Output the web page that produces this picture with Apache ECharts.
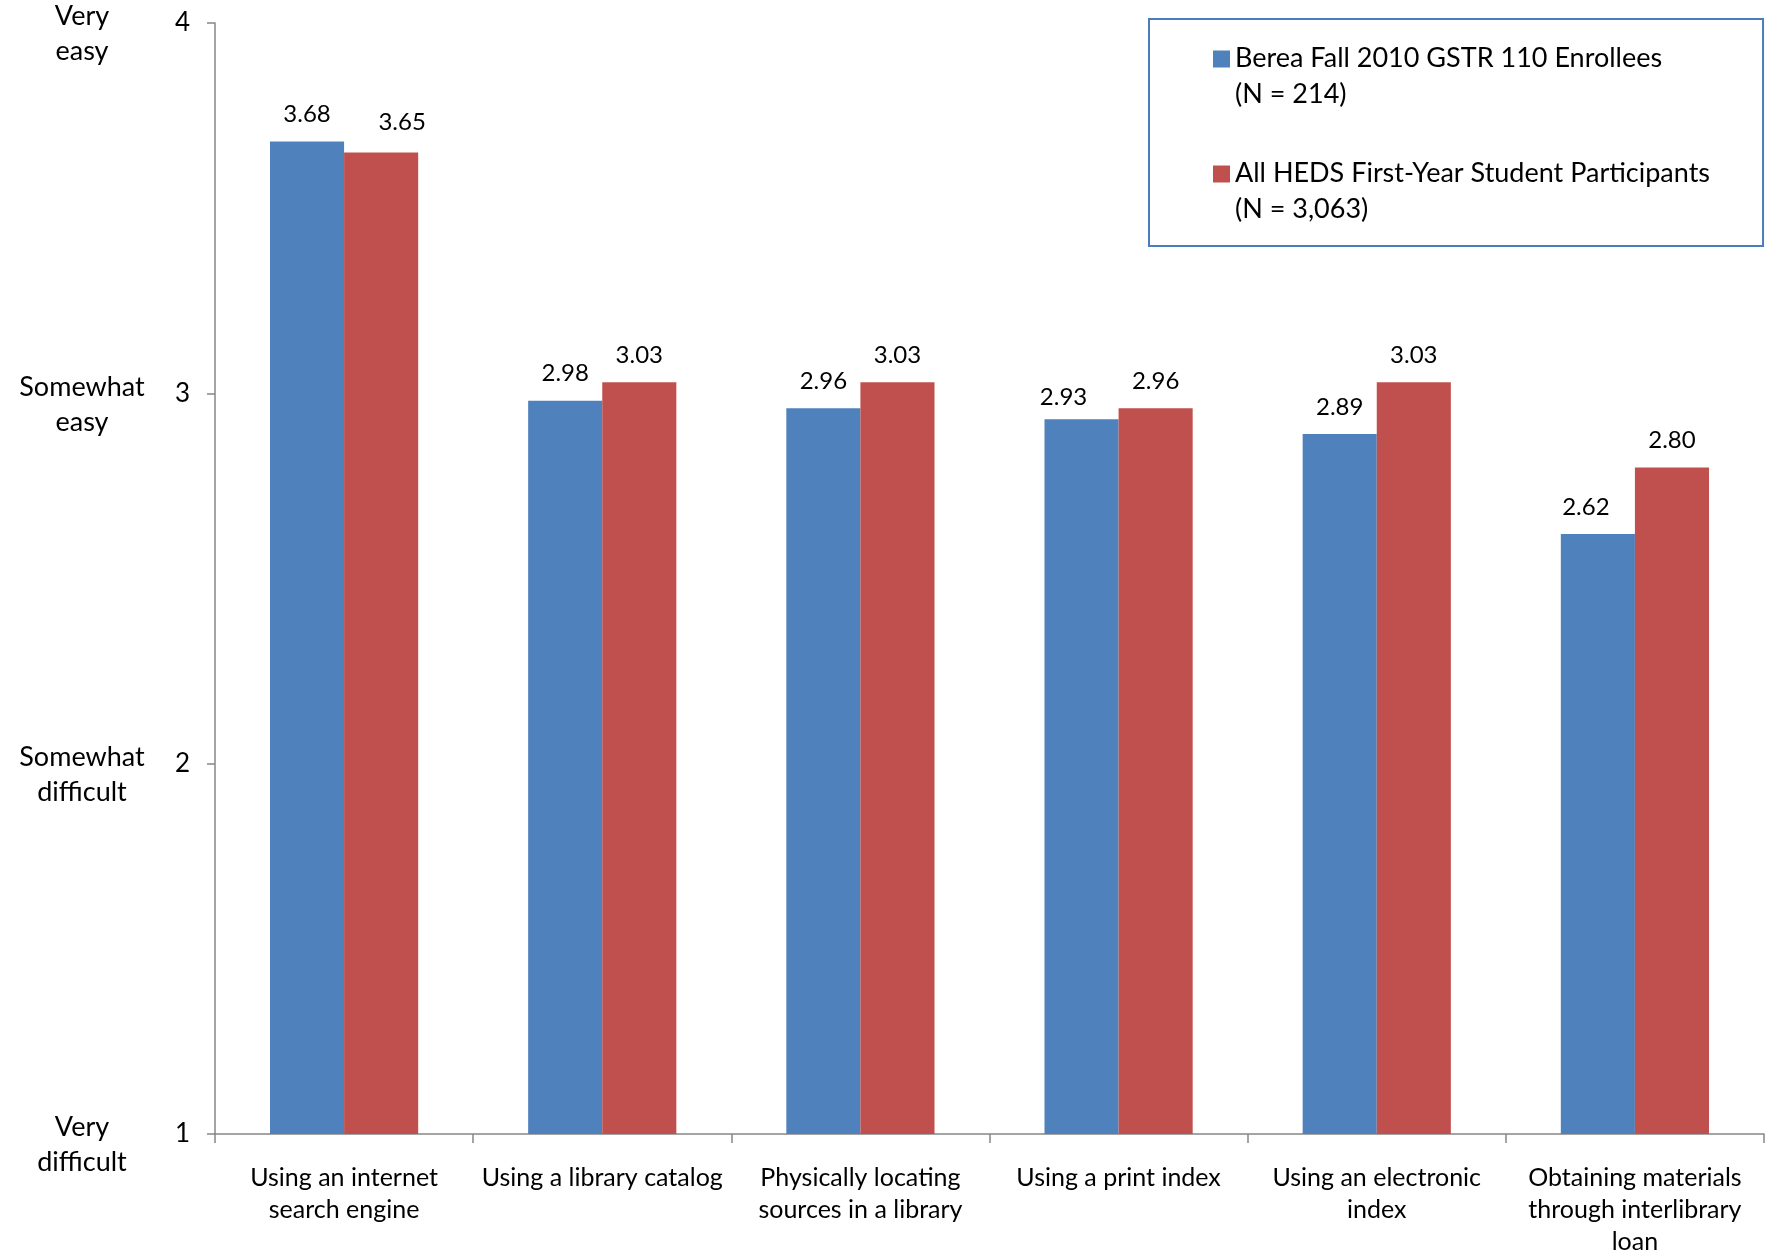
<!DOCTYPE html>
<html>
<head>
<meta charset="utf-8">
<script src="https://cdn.jsdelivr.net/npm/echarts@6/dist/echarts.min.js"></script>
<style>
html,body{margin:0;padding:0;background:#fff;}
#chart{width:1765px;height:1254px;}
</style>
</head>
<body>
<div id="chart"></div>
<script>
const categories = [
  'Using an internet\nsearch engine',
  'Using a library catalog',
  'Physically locating\nsources in a library',
  'Using a print index',
  'Using an electronic\nindex',
  'Obtaining materials\nthrough interlibrary\nloan'
];
const seriesNames = ['Berea Fall 2010 GSTR 110 Enrollees', 'All HEDS First-Year Student Participants'];
const seriesN = ['(N = 214)', '(N = 3,063)'];
const bereaValues = [3.68, 2.98, 2.96, 2.93, 2.89, 2.62];
const hedsValues = [3.65, 3.03, 3.03, 2.96, 3.03, 2.80];
const levelLabels = [['Very', 'difficult'], ['Somewhat', 'difficult'], ['Somewhat', 'easy'], ['Very', 'easy']];
const colors = ['#4F81BD', '#C0504D'];

// small manual nudges of individual value labels (as in the original chart)
const bereaLabelNudge = [[0, 0], [0, 0], [0, 0], [-18, 5], [0, 0], [-12, 0]];
const hedsLabelNudge = [[21, -3], [0, 0], [0, 0], [0, 0], [0, 0], [0, 0]];

const FONT = 'Lato';
const chart = echarts.init(document.getElementById('chart'));
const labelStyle = {
  show: true, position: 'top', distance: 15,
  fontFamily: FONT, fontSize: 24, color: '#000',
  formatter: p => p.value.toFixed(2)
};
const withNudge = (vals, nudges) => vals.map((v, i) => ({ value: v, label: { offset: nudges[i] } }));

chart.setOption({
  animation: false,
  backgroundColor: '#fff',
  textStyle: { fontFamily: FONT },
  grid: { left: 215, right: 1, top: 23, bottom: 120, outerBoundsMode: 'none' },
  legend: {
    orient: 'vertical', left: 1149, top: 19,
    padding: [26, 53, 23, 64],
    itemGap: 52, itemWidth: 17, itemHeight: 17,
    icon: 'rect',
    borderColor: '#4A7EBB', borderWidth: 2,
    data: seriesNames,
    formatter: name => {
      const i = seriesNames.indexOf(name);
      return '{a|' + name + '}\n{b|' + seriesN[i] + '}';
    },
    textStyle: {
      fontFamily: FONT, fontSize: 27, color: '#000',
      rich: {
        a: { fontFamily: FONT, fontSize: 27, color: '#000', lineHeight: 71 },
        b: { fontFamily: FONT, fontSize: 27, color: '#000', lineHeight: 1 }
      }
    }
  },
  xAxis: {
    type: 'category', data: categories,
    axisLine: { lineStyle: { color: '#868686', width: 1.5 } },
    axisTick: { show: true, length: 9, lineStyle: { color: '#868686', width: 1.5 } },
    axisLabel: { fontFamily: FONT, fontSize: 25, color: '#000', margin: 28, lineHeight: 32, interval: 0 }
  },
  yAxis: [
    {
      type: 'value', min: 1, max: 4, interval: 1,
      axisLine: { show: true, lineStyle: { color: '#868686', width: 1.5 } },
      axisTick: { show: true, length: 8, lineStyle: { color: '#868686', width: 1.5 } },
      splitLine: { show: false },
      axisLabel: { fontFamily: FONT, fontSize: 26, color: '#000', margin: 25 }
    },
    {
      type: 'value', min: 1, max: 4, interval: 1, position: 'left',
      axisLine: { show: false }, axisTick: { show: false }, splitLine: { show: false },
      axisLabel: {
        fontFamily: FONT, fontSize: 27, color: '#000', margin: 133, align: 'center',
        formatter: v => {
          const l = levelLabels[Math.round(v) - 1];
          return '{g| }\n{t|' + l[0] + '}\n{t|' + l[1] + '}';
        },
        rich: {
          g: { fontSize: 10, lineHeight: 22 },
          t: { fontFamily: FONT, fontSize: 27, color: '#000', lineHeight: 35, align: 'center' }
        }
      }
    }
  ],
  series: [
    { name: seriesNames[0], type: 'bar', data: withNudge(bereaValues, bereaLabelNudge), itemStyle: { color: colors[0] },
      barGap: '0%', barCategoryGap: '42.6%', label: labelStyle },
    { name: seriesNames[1], type: 'bar', data: withNudge(hedsValues, hedsLabelNudge), itemStyle: { color: colors[1] },
      barGap: '0%', barCategoryGap: '42.6%', label: labelStyle }
  ]
});
</script>
</body>
</html>
